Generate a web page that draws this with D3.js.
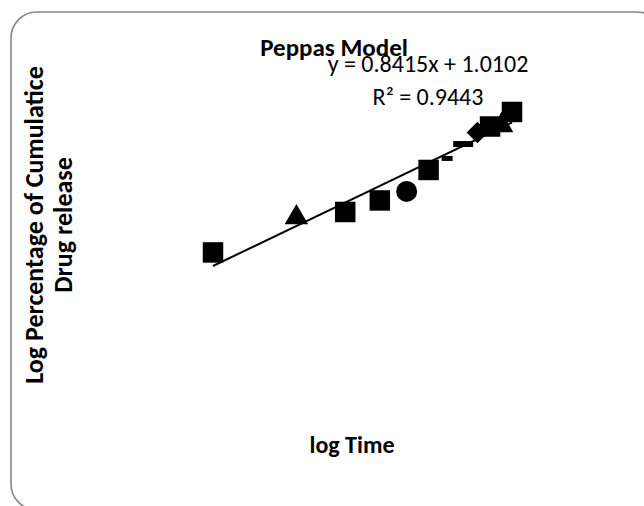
<!DOCTYPE html>
<html>
<head>
<meta charset="utf-8">
<title>Peppas Model</title>
<script src="https://cdn.jsdelivr.net/npm/d3@7"></script>
<style>
  body { margin: 0; background: #fff; }
  text { font-family: Carlito, Lato, "Liberation Sans", sans-serif; fill: #000; }
</style>
</head>
<body>
<div id="chart"></div>
<script>
// time points (h) and log values
var times = [1, 2, 3, 4, 5, 6, 7, 8, 9, 10, 11, 12];
var logTime = times.map(function(t) { return Math.log10(t); });
var logRelease = [1.096, 1.317, 1.352, 1.425, 1.482, 1.618, 1.691, 1.782, 1.855, 1.893, 1.900, 1.985];
var slope = 0.8415, intercept = 1.0102, r2 = 0.9443;

// marker used by each point (every point is its own series in the original)
var markers = ["square", "triangle", "square", "square", "circle", "square",
               "dashSmall", "dash", "diamond", "square", "triangle", "square"];

var width = 644, height = 506;

var svg = d3.select("#chart").append("svg")
  .attr("width", width)
  .attr("height", height);

// chart area border (runs off the right and bottom edges)
svg.append("rect")
  .attr("x", 11).attr("y", 12)
  .attr("width", 652).attr("height", 498)
  .attr("rx", 26).attr("ry", 26)
  .style("fill", "#fff")
  .style("stroke", "#868686")
  .style("stroke-width", 1.6);

var x = d3.scaleLinear().domain([0, Math.log10(12)]).range([213, 512]);
var y = d3.scaleLinear().domain([1, 2]).range([267.6, 109.6]);

// titles
svg.append("text")
  .attr("x", 334).attr("y", 56)
  .attr("text-anchor", "middle")
  .style("font-size", "25px").style("font-weight", "bold")
  .text("Peppas Model");

svg.append("text")
  .attr("x", 352).attr("y", 453)
  .attr("text-anchor", "middle")
  .style("font-size", "24px").style("font-weight", "bold")
  .text("log Time");

var yt = svg.append("g").attr("transform", "translate(0,225) rotate(-90)");
yt.append("text").attr("x", 0).attr("y", 43)
  .attr("text-anchor", "middle")
  .style("font-size", "26px").style("font-weight", "bold")
  .text("Log Percentage of Cumulatice");
yt.append("text").attr("x", 0).attr("y", 72)
  .attr("text-anchor", "middle")
  .style("font-size", "26px").style("font-weight", "bold")
  .text("Drug release");

// trendline
var xr = x.domain();
svg.append("line")
  .attr("x1", x(xr[0])).attr("y1", y(slope * xr[0] + intercept))
  .attr("x2", x(xr[1])).attr("y2", y(slope * xr[1] + intercept))
  .style("stroke", "#000")
  .style("stroke-width", 2);

// points
var pts = svg.append("g");
logTime.forEach(function(lt, i) {
  var cx = x(lt), cy = y(logRelease[i]), m = markers[i];
  if (m == "dash" || m == "dashSmall") {
    var w = m == "dash" ? 20 : 11, h = m == "dash" ? 6 : 5;
    pts.append("rect")
      .attr("x", cx - w / 2).attr("y", cy - h / 2)
      .attr("width", w).attr("height", h)
      .style("fill", "#000");
  } else {
    var type = { square: d3.symbolSquare, triangle: d3.symbolTriangle,
                 circle: d3.symbolCircle, diamond: d3.symbolSquare }[m];
    var size = { square: 420, triangle: 240, circle: 346, diamond: 230 }[m];
    pts.append("path")
      .attr("d", d3.symbol().type(type).size(size))
      .attr("transform", "translate(" + cx + "," + cy + ")" + (m == "diamond" ? " rotate(45)" : ""))
      .style("fill", "#000");
  }
});

// trendline label
svg.append("text")
  .attr("x", 428).attr("y", 72)
  .attr("text-anchor", "middle")
  .style("font-size", "24px")
  .text("y = " + slope + "x + " + intercept);
svg.append("text")
  .attr("x", 428).attr("y", 105)
  .attr("text-anchor", "middle")
  .style("font-size", "24px")
  .text("R² = " + r2);
</script>
</body>
</html>
